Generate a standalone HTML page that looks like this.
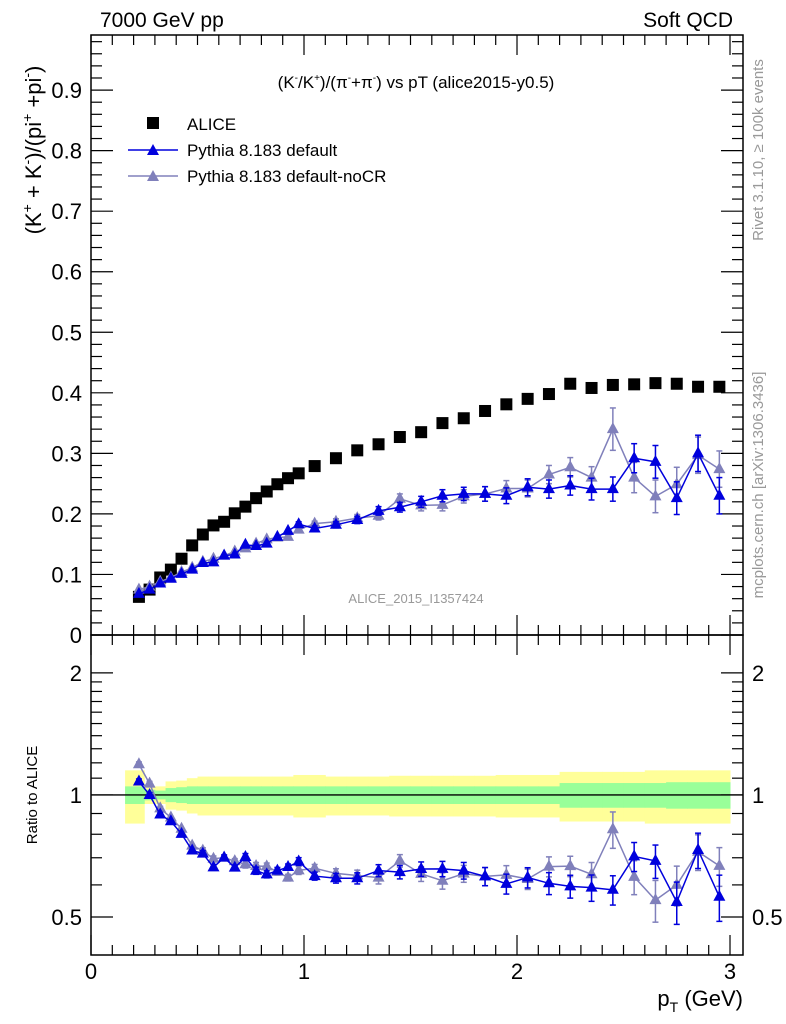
<!DOCTYPE html>
<html><head><meta charset="utf-8">
<style>
body{margin:0;background:#fff;}
svg{display:block;font-family:"Liberation Sans",sans-serif;}
</style></head>
<body>
<svg id="chart" width="786" height="1024" viewBox="0 0 786 1024" xmlns="http://www.w3.org/2000/svg">
<g id="bands"></g>
<g id="axes"></g>
<g id="series"></g>
<text x="100" y="27" font-size="21">7000 GeV pp</text>
<text x="733" y="27" font-size="21" text-anchor="end">Soft QCD</text>
<text x="416" y="88" font-size="17" text-anchor="middle">(K<tspan font-size="10" dy="-7">-</tspan><tspan dy="7">/K</tspan><tspan font-size="10" dy="-7">+</tspan><tspan dy="7">)/(π</tspan><tspan font-size="10" dy="-7">-</tspan><tspan dy="7">+π</tspan><tspan font-size="10" dy="-7">-</tspan><tspan dy="7">) vs pT (alice2015-y0.5)</tspan></text>
<text x="416" y="603" font-size="13" fill="#999" text-anchor="middle">ALICE_2015_I1357424</text>
<text transform="translate(763,150) rotate(-90)" font-size="15" fill="#999" text-anchor="middle">Rivet 3.1.10, ≥ 100k events</text>
<text transform="translate(763,485) rotate(-90)" font-size="15" fill="#999" text-anchor="middle">mcplots.cern.ch [arXiv:1306.3436]</text>
<text transform="translate(41,150) rotate(-90)" font-size="22" text-anchor="middle">(K<tspan font-size="14" dy="-9">+</tspan><tspan dy="9"> + K</tspan><tspan font-size="14" dy="-9">-</tspan><tspan dy="9">)/(pi</tspan><tspan font-size="14" dy="-9">+</tspan><tspan dy="9"> +pi</tspan><tspan font-size="14" dy="-9">-</tspan><tspan dy="9">)</tspan></text>
<text transform="translate(37,795) rotate(-90)" font-size="15" text-anchor="middle">Ratio to ALICE</text>
<text x="743" y="1006" font-size="22" text-anchor="end">p<tspan font-size="14" dy="6">T</tspan><tspan dy="-6"> (GeV)</tspan></text>
<g>
<rect x="147" y="117" width="12" height="12" fill="#000"/>
<text x="187" y="130" font-size="17">ALICE</text>
<line x1="128" y1="150" x2="178" y2="150" stroke="#0000dd" stroke-width="1.5"/>
<polygon points="153,144 159,155 147,155" fill="#0000dd"/>
<text x="187" y="156" font-size="17">Pythia 8.183 default</text>
<line x1="128" y1="176" x2="178" y2="176" stroke="#8080bb" stroke-width="1.5"/>
<polygon points="153,170 159,181 147,181" fill="#8080bb"/>
<text x="187" y="182" font-size="17">Pythia 8.183 default-noCR</text>
</g>
</svg>
<script>
const pT=[0.225,0.275,0.325,0.375,0.425,0.475,0.525,0.575,0.625,0.675,0.725,0.775,0.825,0.875,0.925,0.975,1.05,1.15,1.25,1.35,1.45,1.55,1.65,1.75,1.85,1.95,2.05,2.15,2.25,2.35,2.45,2.55,2.65,2.75,2.85,2.95];
const alice=[0.063,0.075,0.095,0.108,0.126,0.148,0.166,0.181,0.187,0.201,0.212,0.226,0.237,0.249,0.259,0.267,0.279,0.292,0.305,0.315,0.327,0.335,0.350,0.358,0.370,0.381,0.390,0.398,0.415,0.408,0.413,0.414,0.416,0.415,0.410,0.410];
const aliceStat=[0.05,0.03,0.025,0.04,0.045,0.05,0.05,0.05,0.05,0.05,0.05,0.05,0.05,0.05,0.05,0.05,0.05,0.05,0.05,0.05,0.05,0.05,0.05,0.05,0.05,0.05,0.05,0.05,0.07,0.07,0.07,0.07,0.07,0.075,0.075,0.075];
const aliceTot=[0.15,0.05,0.05,0.08,0.085,0.1,0.11,0.11,0.11,0.11,0.11,0.11,0.11,0.11,0.11,0.12,0.12,0.11,0.11,0.11,0.115,0.115,0.115,0.115,0.115,0.12,0.12,0.12,0.14,0.14,0.14,0.14,0.15,0.15,0.15,0.15];
const pyDef=[0.068,0.075,0.085,0.093,0.101,0.108,0.119,0.120,0.131,0.133,0.149,0.147,0.151,0.162,0.172,0.183,0.176,0.182,0.190,0.205,0.211,0.220,0.230,0.233,0.233,0.230,0.244,0.241,0.247,0.241,0.241,0.292,0.286,0.226,0.300,0.230];
const pyDefErr=[0.001,0.001,0.001,0.001,0.001,0.001,0.002,0.002,0.002,0.002,0.003,0.003,0.003,0.003,0.003,0.004,0.004,0.005,0.006,0.007,0.008,0.009,0.01,0.011,0.012,0.013,0.014,0.015,0.016,0.018,0.02,0.024,0.027,0.027,0.03,0.03];
const pyNoCR=[0.075,0.080,0.088,0.095,0.104,0.111,0.121,0.126,0.131,0.138,0.143,0.151,0.158,0.161,0.162,0.174,0.184,0.187,0.193,0.197,0.225,0.214,0.215,0.229,0.233,0.242,0.242,0.265,0.277,0.260,0.340,0.260,0.229,0.249,0.297,0.274];
const pyNoCRErr=[0.001,0.001,0.001,0.001,0.001,0.001,0.002,0.002,0.002,0.002,0.003,0.003,0.003,0.003,0.003,0.004,0.004,0.005,0.006,0.007,0.008,0.009,0.01,0.011,0.012,0.013,0.014,0.015,0.016,0.018,0.035,0.025,0.027,0.028,0.03,0.03];
const mainYTicks=[0,0.1,0.2,0.3,0.4,0.5,0.6,0.7,0.8,0.9];
const mainYLabels=["0","0.1","0.2","0.3","0.4","0.5","0.6","0.7","0.8","0.9"];
const ratioTicks=[0.5,1,2];
const ratioLabels=["0.5","1","2"];
const xTicks=[0,1,2,3];

const NS="http://www.w3.org/2000/svg";
const L=91,R=743,T=35,MB=635,RB=955;
const X0=0,X1=3.061,Y0=0,Y1=0.991,RL=0.403,RH=2.48;
const sx=v=>L+(v-X0)/(X1-X0)*(R-L);
const sy=v=>MB-(v-Y0)/(Y1-Y0)*(MB-T);
const sr=v=>RB-(Math.log(v)-Math.log(RL))/(Math.log(RH)-Math.log(RL))*(RB-MB);
function mk(parent,tag,attrs){const e=document.createElementNS(NS,tag);for(const k in attrs)e.setAttribute(k,attrs[k]);parent.appendChild(e);return e;}
const ax=document.getElementById('axes'),se=document.getElementById('series'),bd=document.getElementById('bands');

const edges=[];
for(let i=0;i<=pT.length;i++){
  if(i==0)edges.push(pT[0]-(pT[1]-pT[0])/2-0.04);
  else if(i==pT.length)edges.push(3.0);
  else edges.push((pT[i-1]+pT[i])/2);
}
for(let i=0;i<pT.length;i++){
  let r=mk(bd,'rect',{x:sx(edges[i]),width:sx(edges[i+1])-sx(edges[i])+0.5,y:sr(1+aliceTot[i]),height:sr(1-aliceTot[i])-sr(1+aliceTot[i]),fill:'#ffff99'});
  
  
}
for(let i=0;i<pT.length;i++){
  let r=mk(bd,'rect',{x:sx(edges[i]),width:sx(edges[i+1])-sx(edges[i])+0.5,y:sr(1+aliceStat[i]),height:sr(1-aliceStat[i])-sr(1+aliceStat[i]),fill:'#99ff99'});
  
  
}
let one=mk(ax,'line',{x1:L,x2:R,y1:sr(1),y2:sr(1),stroke:'#000','stroke-width':1.3});



for(const [t,b] of [[T,MB],[MB,RB]]){
  let f=mk(ax,'rect',{x:L,y:t,width:R-L,height:b-t,fill:'none',stroke:'#000','stroke-width':1.5});
  
  
}
for(const [t,b] of [[T,MB],[MB,RB]]){
  for(let k=0;k<=30;k++){
    const v=k/10,x=sx(v),len=(k%10==0)?20:10;
    mk(ax,'line',{x1:x,x2:x,y1:b,y2:b-len,stroke:'#000','stroke-width':1.2});
    mk(ax,'line',{x1:x,x2:x,y1:t,y2:t+len,stroke:'#000','stroke-width':1.2});
  }
}
for(const v of xTicks){
  let t=mk(ax,'text',{x:sx(v),y:979,'font-size':22,'text-anchor':'middle'});
  t.textContent=String(v);
  
  
}
for(let k=0;k<=49;k++){
  const v=k*0.02;if(v>Y1)break;const y=sy(v),len=(k%5==0)?22:11;
  mk(ax,'line',{x1:L,x2:L+len,y1:y,y2:y,stroke:'#000','stroke-width':1.2});
  mk(ax,'line',{x1:R,x2:R-len,y1:y,y2:y,stroke:'#000','stroke-width':1.2});
}
mainYTicks.forEach((v,i)=>{
  let t=mk(ax,'text',{x:82,y:sy(v)+8,'font-size':22,'text-anchor':'end'});
  t.textContent=mainYLabels[i];
  
  
});
for(const v of [0.5,0.6,0.7,0.8,0.9,1,1.1,1.2,1.3,1.4,1.5,1.6,1.7,1.8,1.9,2]){
  const y=sr(v),len=(v==0.5||v==1||v==2)?22:11;
  mk(ax,'line',{x1:L,x2:L+len,y1:y,y2:y,stroke:'#000','stroke-width':1.2});
  mk(ax,'line',{x1:R,x2:R-len,y1:y,y2:y,stroke:'#000','stroke-width':1.2});
}
ratioTicks.forEach((v,i)=>{
  let t=mk(ax,'text',{x:82,y:sr(v)+8,'font-size':22,'text-anchor':'end'});
  t.textContent=ratioLabels[i];
  
  
  let t2=mk(ax,'text',{x:752,y:sr(v)+8,'font-size':22,'text-anchor':'start'});
  t2.textContent=ratioLabels[i];
  
  
});

pT.forEach((x,i)=>{
  let r=mk(se,'rect',{x:sx(x)-6,y:sy(alice[i])-6,width:12,height:12,fill:'#000'});
  
  
});
function drawMC(vals,errs,color,name,ratio){
  const ys=vals.map((v,i)=>ratio?sr(v/alice[i]):sy(v));
  let p=mk(se,'polyline',{points:pT.map((x,i)=>sx(x)+','+ys[i]).join(' '),fill:'none',stroke:color,'stroke-width':1.5});
  
  
  pT.forEach((x,i)=>{
    const hi=ratio?sr((vals[i]+errs[i])/alice[i]):sy(vals[i]+errs[i]);
    const lo=ratio?sr((vals[i]-errs[i])/alice[i]):sy(vals[i]-errs[i]);
    const cx=sx(x);
    if(lo-hi>4){
      mk(se,'line',{x1:cx,x2:cx,y1:hi,y2:lo,stroke:color,'stroke-width':1.5});
      mk(se,'line',{x1:cx-3,x2:cx+3,y1:hi,y2:hi,stroke:color,'stroke-width':1.5});
      mk(se,'line',{x1:cx-3,x2:cx+3,y1:lo,y2:lo,stroke:color,'stroke-width':1.5});
    }
    let m=mk(se,'polygon',{points:`${cx},${ys[i]-7} ${cx+6},${ys[i]+4} ${cx-6},${ys[i]+4}`,fill:color});
    
    
  });
}
drawMC(pyNoCR,pyNoCRErr,'#8080bb','pythia-nocr',false);
drawMC(pyDef,pyDefErr,'#0000dd','pythia-default',false);
drawMC(pyNoCR,pyNoCRErr,'#8080bb','ratio-pythia-nocr',true);
drawMC(pyDef,pyDefErr,'#0000dd','ratio-pythia-default',true);
</script>
</body></html>
